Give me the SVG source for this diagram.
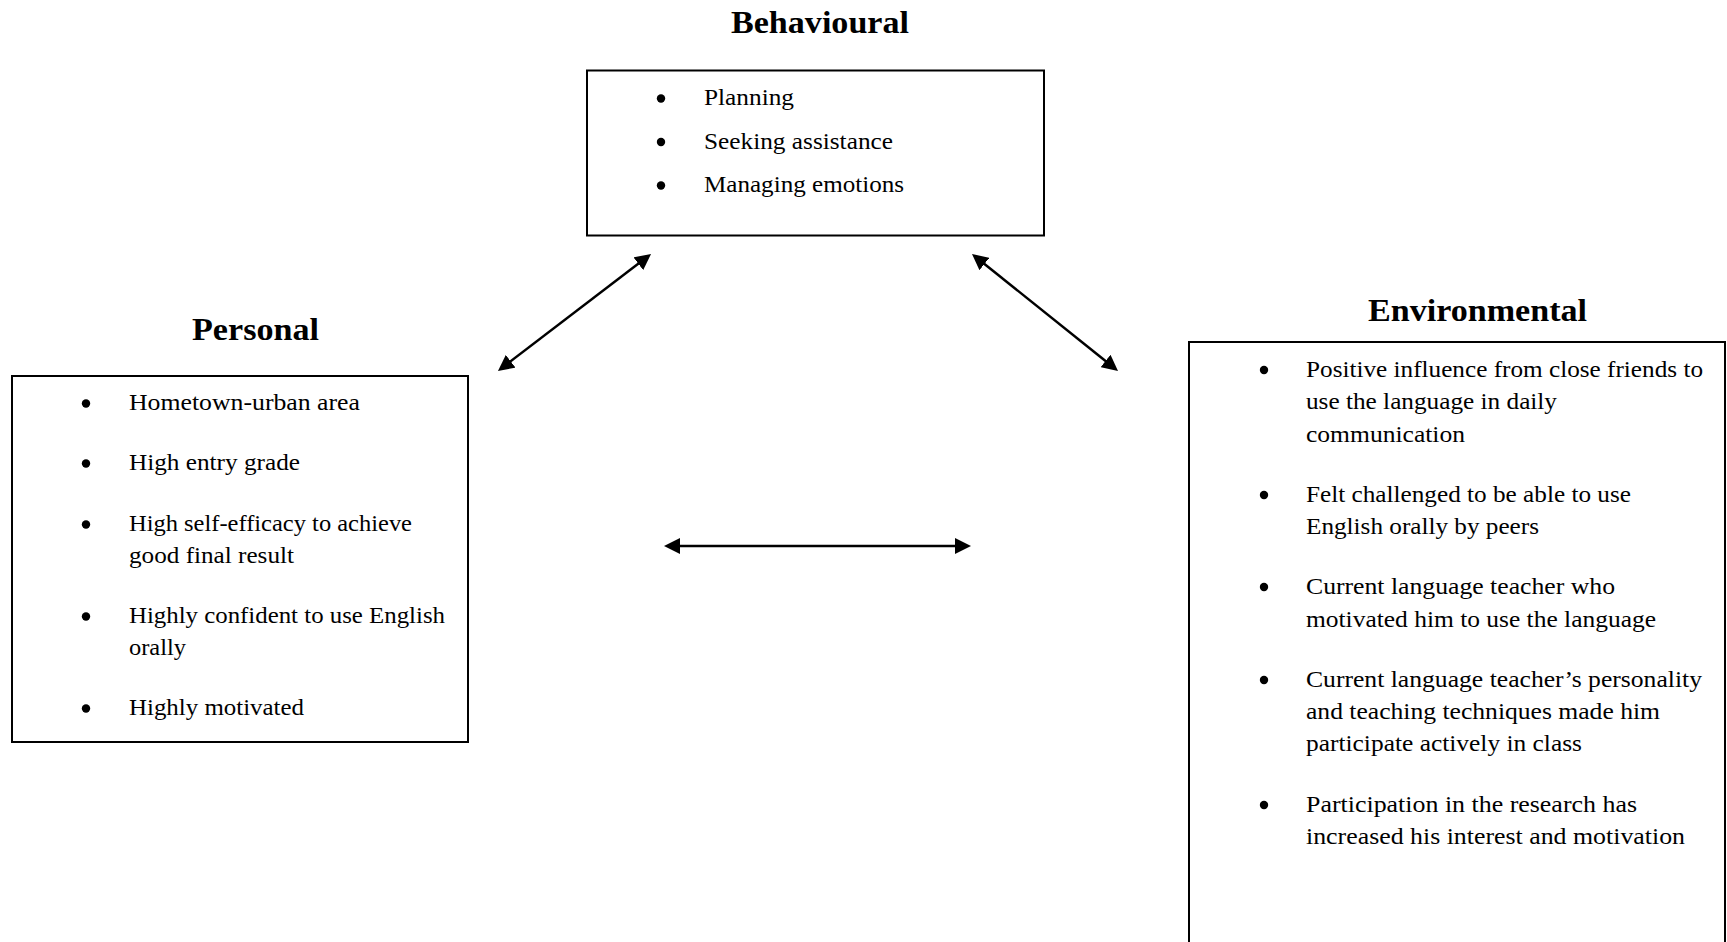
<svg xmlns="http://www.w3.org/2000/svg" width="1727" height="942" viewBox="0 0 1727 942">
  <style>
    .box { fill: #ffffff; stroke: #000000; stroke-width: 2; }
    .title { font-family: "Liberation Serif", "DejaVu Serif", serif; font-weight: bold; font-size: 31px; fill: #000000; }
    .item { font-family: "Liberation Serif", "DejaVu Serif", serif; font-size: 22.5px; fill: #000000; }
    .bullet { fill: #000000; }
    .conn { stroke: #000000; stroke-width: 2.5; fill: none; marker-start: url(#arrow); marker-end: url(#arrow); }
  </style>
  <defs>
    <marker id="arrow" viewBox="0 0 16 16" refX="6" refY="8" markerWidth="16" markerHeight="16" markerUnits="userSpaceOnUse" orient="auto-start-reverse">
      <path d="M0,0 L16,8 L0,16 z" fill="#000000"/>
    </marker>
  </defs>
  <rect width="1727" height="942" fill="#ffffff"/>

  <g id="behavioural">
    <text class="title" x="731" y="33" textLength="178" lengthAdjust="spacingAndGlyphs">Behavioural</text>
    <rect class="box" x="587" y="70.5" width="457" height="165"/>
    <circle class="bullet" cx="661" cy="98.5" r="4.2"/>
    <text class="item" x="704" y="105" textLength="90" lengthAdjust="spacingAndGlyphs">Planning</text>
    <circle class="bullet" cx="661" cy="142" r="4.2"/>
    <text class="item" x="704" y="148.5" textLength="189" lengthAdjust="spacingAndGlyphs">Seeking assistance</text>
    <circle class="bullet" cx="661" cy="185.5" r="4.2"/>
    <text class="item" x="704" y="192" textLength="200" lengthAdjust="spacingAndGlyphs">Managing emotions</text>
  </g>

  <g id="personal">
    <text class="title" x="192" y="340" textLength="127" lengthAdjust="spacingAndGlyphs">Personal</text>
    <rect class="box" x="12" y="376" width="456" height="366"/>
    <circle class="bullet" cx="86" cy="403.5" r="4.2"/>
    <text class="item" x="129" y="410" textLength="231" lengthAdjust="spacingAndGlyphs">Hometown-urban area</text>
    <circle class="bullet" cx="86" cy="463.5" r="4.2"/>
    <text class="item" x="129" y="470" textLength="171" lengthAdjust="spacingAndGlyphs">High entry grade</text>
    <circle class="bullet" cx="86" cy="524.5" r="4.2"/>
    <text class="item" x="129" y="531" textLength="283" lengthAdjust="spacingAndGlyphs">High self-efficacy to achieve</text>
    <text class="item" x="129" y="563" textLength="165" lengthAdjust="spacingAndGlyphs">good final result</text>
    <circle class="bullet" cx="86" cy="616.5" r="4.2"/>
    <text class="item" x="129" y="623" textLength="316" lengthAdjust="spacingAndGlyphs">Highly confident to use English</text>
    <text class="item" x="129" y="655" textLength="57" lengthAdjust="spacingAndGlyphs">orally</text>
    <circle class="bullet" cx="86" cy="708.5" r="4.2"/>
    <text class="item" x="129" y="715" textLength="175" lengthAdjust="spacingAndGlyphs">Highly motivated</text>
  </g>

  <g id="environmental">
    <text class="title" x="1368" y="320.5" textLength="219" lengthAdjust="spacingAndGlyphs">Environmental</text>
    <rect class="box" x="1189" y="342" width="536" height="630"/>
    <circle class="bullet" cx="1264" cy="370" r="4.2"/>
    <text class="item" x="1306" y="376.5" textLength="397" lengthAdjust="spacingAndGlyphs">Positive influence from close friends to</text>
    <text class="item" x="1306" y="409" textLength="251" lengthAdjust="spacingAndGlyphs">use the language in daily</text>
    <text class="item" x="1306" y="441.5" textLength="159" lengthAdjust="spacingAndGlyphs">communication</text>
    <circle class="bullet" cx="1264" cy="495" r="4.2"/>
    <text class="item" x="1306" y="501.5" textLength="325" lengthAdjust="spacingAndGlyphs">Felt challenged to be able to use</text>
    <text class="item" x="1306" y="534" textLength="233" lengthAdjust="spacingAndGlyphs">English orally by peers</text>
    <circle class="bullet" cx="1264" cy="587" r="4.2"/>
    <text class="item" x="1306" y="593.5" textLength="309" lengthAdjust="spacingAndGlyphs">Current language teacher who</text>
    <text class="item" x="1306" y="626.5" textLength="350" lengthAdjust="spacingAndGlyphs">motivated him to use the language</text>
    <circle class="bullet" cx="1264" cy="680" r="4.2"/>
    <text class="item" x="1306" y="686.5" textLength="396" lengthAdjust="spacingAndGlyphs">Current language teacher’s personality</text>
    <text class="item" x="1306" y="718.5" textLength="354" lengthAdjust="spacingAndGlyphs">and teaching techniques made him</text>
    <text class="item" x="1306" y="750.5" textLength="276" lengthAdjust="spacingAndGlyphs">participate actively in class</text>
    <circle class="bullet" cx="1264" cy="805" r="4.2"/>
    <text class="item" x="1306" y="811.5" textLength="331" lengthAdjust="spacingAndGlyphs">Participation in the research has</text>
    <text class="item" x="1306" y="843.5" textLength="379" lengthAdjust="spacingAndGlyphs">increased his interest and motivation</text>
  </g>

  <g id="connectors">
    <line class="conn" x1="505.9" y1="364.9" x2="643.1" y2="260.1"/>
    <line class="conn" x1="979.8" y1="260.25" x2="1110.2" y2="364.75"/>
    <line class="conn" x1="674" y1="546" x2="961" y2="546"/>
  </g>
</svg>
